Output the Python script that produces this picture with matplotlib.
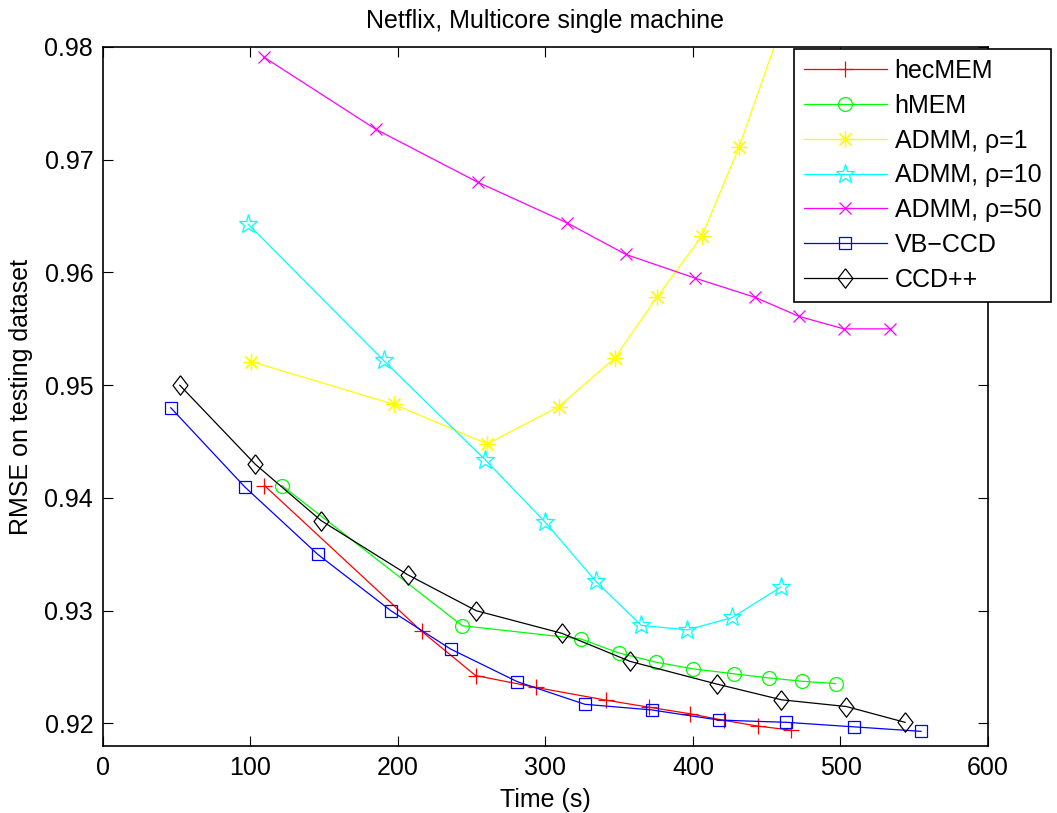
import matplotlib
matplotlib.use('Agg')
from matplotlib import pyplot as plt

plt.rcParams['font.family'] = ['Liberation Sans', 'DejaVu Sans']

# data (time in s, RMSE)
hec_t = [109.5, 216.1, 252.6, 293.4, 341.3, 370.3, 398.0, 421.2, 443.8, 466.3]
hec_r = [0.9411, 0.92817, 0.92425, 0.9232, 0.92206, 0.92144, 0.92086, 0.92027, 0.91977, 0.91941]

hmem_t = [121.3, 243.6, 323.8, 349.6, 375.0, 400.3, 428.0, 451.4, 474.1, 496.7]
hmem_r = [0.9411, 0.92867, 0.9275, 0.92626, 0.92543, 0.92484, 0.9244, 0.92404, 0.92374, 0.92354]

admm1_t = [100.5, 197.4, 260.5, 309.0, 346.9, 375.5, 405.9, 431.2, 459.0]
admm1_r = [0.9521, 0.9483, 0.9448, 0.9481, 0.9524, 0.9578, 0.9632, 0.9711, 0.9815]

admm10_t = [98.3, 190.2, 259.0, 299.5, 334.2, 364.9, 396.2, 426.7, 459.5]
admm10_r = [0.9643, 0.9522, 0.9434, 0.9379, 0.9326, 0.9287, 0.9283, 0.9294, 0.9321]

admm50_t = [109.1, 185.0, 254.2, 314.6, 354.5, 401.4, 442.0, 472.0, 502.2, 533.9]
admm50_r = [0.9791, 0.9727, 0.9680, 0.9644, 0.9616, 0.9595, 0.9578, 0.9561, 0.9550, 0.9550]

vb_t = [46.0, 96.0, 145.6, 195.2, 235.7, 281.0, 326.7, 372.0, 417.6, 463.4, 509.1, 554.6]
vb_r = [0.948, 0.941, 0.935, 0.930, 0.9266, 0.9237, 0.9217, 0.9212, 0.9203, 0.9201, 0.9197, 0.9193]

ccd_t = [52.1, 103.2, 147.8, 206.5, 253.1, 311.0, 357.5, 416.0, 460.0, 504.0, 543.8]
ccd_r = [0.950, 0.943, 0.938, 0.9332, 0.930, 0.928, 0.9255, 0.9235, 0.9221, 0.9215, 0.9201]

labels = ['hecMEM', 'hMEM', 'ADMM, \u03c1=1', 'ADMM, \u03c1=10', 'ADMM, \u03c1=50', 'VB\u2212CCD', 'CCD++']

# MATLAB style diamond, a bit taller than wide
diamond = [(0, 1.3), (1, 0), (0, -1.3), (-1, 0), (0, 1.3)]

fig = plt.figure(figsize=(10.57, 8.13), dpi=100)
ax = fig.add_axes([0.0974, 0.0824, 0.8373, 0.8598])

lw = 0.9
ax.plot(hec_t, hec_r, '-', color='red', marker='+', ms=12, mew=lw, lw=lw, label=labels[0])
ax.plot(hmem_t, hmem_r, '-', color='#00ff00', marker='o', ms=10, mfc='none', mew=lw, lw=lw, label=labels[1])
ax.plot(admm1_t, admm1_r, '-', color='yellow', marker=(8, 2, 0), ms=12, mew=lw, lw=lw, label=labels[2])
ax.plot(admm10_t, admm10_r, '-', color='cyan', marker='*', ms=14, mfc='none', mew=lw, lw=lw, label=labels[3])
ax.plot(admm50_t, admm50_r, '-', color='magenta', marker='x', ms=8, mew=lw, lw=lw, label=labels[4])
ax.plot(vb_t, vb_r, '-', color='blue', marker='s', ms=9, mfc='none', mew=lw, lw=lw, label=labels[5])
ax.plot(ccd_t, ccd_r, '-', color='black', marker=diamond, ms=14, mfc='none', mew=lw, lw=lw, label=labels[6])

ax.set_xlim(0, 600)
ax.set_ylim(0.918, 0.98)
ax.set_xticks([0, 100, 200, 300, 400, 500, 600])
ax.set_yticks([0.92, 0.93, 0.94, 0.95, 0.96, 0.97, 0.98])
ax.set_yticklabels(['0.92', '0.93', '0.94', '0.95', '0.96', '0.97', '0.98'])
ax.tick_params(direction='in', length=7, width=0.8, top=True, right=True, labelsize=18, pad=7)
for s in ax.spines.values():
    s.set_linewidth(1.2)

ax.set_xlabel('Time (s)', fontsize=18, labelpad=6)
ax.set_ylabel('RMSE on testing dataset', fontsize=18, labelpad=8)
ax.set_title('Netflix, Multicore single machine', fontsize=18, pad=14)

leg = fig.legend(loc='upper left', bbox_to_anchor=(0.7512, 0.9397), bbox_transform=fig.transFigure,
                 fontsize=18, fancybox=False, edgecolor='black', framealpha=1,
                 handlelength=3.3, handletextpad=0.32, borderpad=0.4, labelspacing=0.43,
                 borderaxespad=0)
leg.get_frame().set_linewidth(1.2)

fig.savefig('out.png', dpi=100)
